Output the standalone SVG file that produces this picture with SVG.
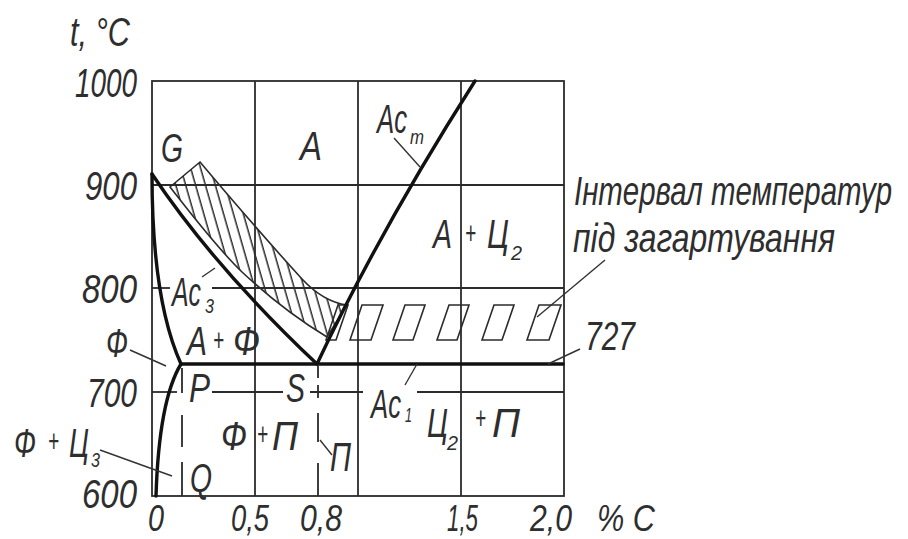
<svg xmlns="http://www.w3.org/2000/svg" width="908" height="539" viewBox="0 0 908 539">
<style>
.thin{stroke:#2b2b2b;stroke-width:1.8;fill:none}
.thick{stroke:#111;stroke-width:3.4;fill:none;stroke-linecap:round;stroke-linejoin:round}
.lead{stroke:#333;stroke-width:1.4;fill:none}
.hb{stroke:#2b2b2b;stroke-width:1.6;fill:none}
.hf{stroke:#2b2b2b;stroke-width:1.6;fill:url(#hatch)}
text{font-family:"Liberation Sans","DejaVu Sans",sans-serif;font-style:italic;fill:#2e2e2e;font-size:40px}
.ax{font-size:36px}
.sub{font-size:21px}
.pl{font-size:32px}
</style>
<defs>
<pattern id="hatch" patternUnits="userSpaceOnUse" width="9.5" height="20" patternTransform="rotate(-16)">
<line x1="4" y1="-5" x2="4" y2="25" stroke="#2b2b2b" stroke-width="1.5"/>
</pattern>
</defs>
<rect width="908" height="539" fill="#fff"/>

<g id="grid">
<rect x="152" y="81" width="412" height="415" class="thin"/>
<line x1="255" y1="81" x2="255" y2="496" class="thin"/>
<line x1="358" y1="81" x2="358" y2="496" class="thin"/>
<line x1="461" y1="81" x2="461" y2="496" class="thin"/>
<line x1="152" y1="185" x2="564" y2="185" class="thin"/>
<line x1="152" y1="288" x2="170" y2="288" class="thin"/>
<line x1="212" y1="288" x2="564" y2="288" class="thin"/>
<line x1="152" y1="392" x2="177" y2="392" class="thin"/>
<line x1="212" y1="392" x2="283" y2="392" class="thin"/>
<line x1="310" y1="392" x2="363" y2="392" class="thin"/>
<line x1="417" y1="392" x2="564" y2="392" class="thin"/>
<path d="M182,368V393M182,415V447M182,462V496" class="thin"/>
<path d="M318,366V378M318,385V398M318,413V442M318,463V496" class="thin"/>
</g>

<g id="hatched-interval">
<path d="M170,187 L200,162 C232,200 272,246 302,279 C317,295 332,303 347,305 L327,337 C302,322 272,300 242,272 C217,248 192,215 170,187 Z" class="hf"/>
<path d="M326,340 L338,305 L348,305 L336,340 Z M350,340 L362,305 L383,305 L371,340 Z M393,340 L405,305 L425,305 L413,340 Z M437,340 L449,305 L469,305 L457,340 Z M482,340 L494,305 L514,305 L502,340 Z M527,340 L539,305 L561,305 L549,340 Z" class="hb"/>
</g>

<g id="phase-lines">
<path d="M152,174 Q215,268 317,364" class="thick"/>
<path d="M152,174 Q152,300 181,364" class="thick"/>
<path d="M181,364 Q159,400 156,496" class="thick"/>
<path d="M317,364 Q380,230 475,81" class="thick"/>
<line x1="181" y1="364" x2="563" y2="364" class="thick"/>
</g>

<g id="connectors">
<line x1="202" y1="277" x2="215" y2="268" class="lead"/>
<line x1="394" y1="138" x2="420" y2="167" class="lead"/>
<line x1="130" y1="350" x2="166" y2="366" class="lead"/>
<line x1="100" y1="450" x2="172" y2="476" class="lead"/>
<line x1="320" y1="440" x2="332" y2="455" class="lead"/>
<line x1="405" y1="385" x2="417" y2="364" class="lead"/>
<line x1="605" y1="260" x2="537" y2="317" class="lead"/>
<line x1="580" y1="349" x2="548" y2="364" class="lead"/>
</g>

<g id="axis-labels">
<text x="70" y="46" textLength="60" lengthAdjust="spacingAndGlyphs">t, °C</text>
<text x="75" y="97" textLength="62" lengthAdjust="spacingAndGlyphs">1000</text>
<text x="85" y="200" textLength="52" lengthAdjust="spacingAndGlyphs">900</text>
<text x="82" y="303" textLength="55" lengthAdjust="spacingAndGlyphs">800</text>
<text x="87" y="407" textLength="50" lengthAdjust="spacingAndGlyphs">700</text>
<text x="82" y="508" textLength="55" lengthAdjust="spacingAndGlyphs">600</text>
<text class="ax" x="148" y="531" textLength="16" lengthAdjust="spacingAndGlyphs">0</text>
<text class="ax" x="231" y="531" textLength="38" lengthAdjust="spacingAndGlyphs">0,5</text>
<text class="ax" x="300" y="531" textLength="42" lengthAdjust="spacingAndGlyphs">0,8</text>
<text class="ax" x="447" y="531" textLength="31" lengthAdjust="spacingAndGlyphs">1,5</text>
<text class="ax" x="530" y="531" textLength="42" lengthAdjust="spacingAndGlyphs">2,0</text>
<text class="ax" x="597" y="531" textLength="58" lengthAdjust="spacingAndGlyphs">% C</text>
</g>

<g id="label-G"><text x="161" y="162" textLength="22" lengthAdjust="spacingAndGlyphs">G</text></g>
<g id="label-A"><text x="300" y="160" textLength="22" lengthAdjust="spacingAndGlyphs">A</text></g>
<g id="label-Acm"><text x="377" y="133" textLength="30" lengthAdjust="spacingAndGlyphs">Ac</text><text x="410" y="144" class="sub" textLength="14" lengthAdjust="spacingAndGlyphs">m</text></g>
<g id="label-A-C2"><text x="433" y="248" textLength="19" lengthAdjust="spacingAndGlyphs">A</text><text x="465" y="244" class="pl" textLength="11" lengthAdjust="spacingAndGlyphs">+</text><text x="487" y="248" textLength="22" lengthAdjust="spacingAndGlyphs">Ц</text><text x="511" y="260" class="sub" textLength="11" lengthAdjust="spacingAndGlyphs">2</text></g>
<g id="label-interval"><text x="574" y="205" textLength="318" lengthAdjust="spacingAndGlyphs">Інтервал температур</text><text x="573" y="252" textLength="262" lengthAdjust="spacingAndGlyphs">під загартування</text></g>
<g id="label-Ac3"><text x="172" y="306" textLength="29" lengthAdjust="spacingAndGlyphs">Ac</text><text x="205" y="313" class="sub" textLength="9" lengthAdjust="spacingAndGlyphs">3</text></g>
<g id="label-727"><text x="585" y="350" textLength="50" lengthAdjust="spacingAndGlyphs">727</text></g>
<g id="label-A-F"><text x="187" y="355" textLength="20" lengthAdjust="spacingAndGlyphs">A</text><text x="213" y="351" class="pl" textLength="11" lengthAdjust="spacingAndGlyphs">+</text><text x="233" y="355" textLength="27" lengthAdjust="spacingAndGlyphs">Ф</text></g>
<g id="label-F"><text x="106" y="357" textLength="22" lengthAdjust="spacingAndGlyphs">Ф</text></g>
<g id="label-P"><text x="189" y="402" textLength="21" lengthAdjust="spacingAndGlyphs">P</text></g>
<g id="label-S"><text x="286" y="402" textLength="19" lengthAdjust="spacingAndGlyphs">S</text></g>
<g id="label-Ac1"><text x="371" y="418" textLength="30" lengthAdjust="spacingAndGlyphs">Ac</text><text x="405" y="422" class="sub" textLength="7" lengthAdjust="spacingAndGlyphs">1</text></g>
<g id="label-F-P"><text x="221" y="450" textLength="26" lengthAdjust="spacingAndGlyphs">Ф</text><text x="257" y="445" class="pl" textLength="11" lengthAdjust="spacingAndGlyphs">+</text><text x="272" y="450" textLength="26" lengthAdjust="spacingAndGlyphs">П</text></g>
<g id="label-P2"><text x="330" y="471" textLength="21" lengthAdjust="spacingAndGlyphs">П</text></g>
<g id="label-C2-P"><text x="427" y="437" textLength="21" lengthAdjust="spacingAndGlyphs">Ц</text><text x="447" y="450" class="sub" textLength="11" lengthAdjust="spacingAndGlyphs">2</text><text x="475" y="429" class="pl" textLength="11" lengthAdjust="spacingAndGlyphs">+</text><text x="492" y="437" textLength="28" lengthAdjust="spacingAndGlyphs">П</text></g>
<g id="label-F-C3"><text x="14" y="457" textLength="22" lengthAdjust="spacingAndGlyphs">Ф</text><text x="48" y="452" class="pl" textLength="11" lengthAdjust="spacingAndGlyphs">+</text><text x="69" y="457" textLength="20" lengthAdjust="spacingAndGlyphs">Ц</text><text x="91" y="467" class="sub" textLength="9" lengthAdjust="spacingAndGlyphs">3</text></g>
<g id="label-Q"><text x="190" y="492" textLength="22" lengthAdjust="spacingAndGlyphs">Q</text></g>
</svg>
